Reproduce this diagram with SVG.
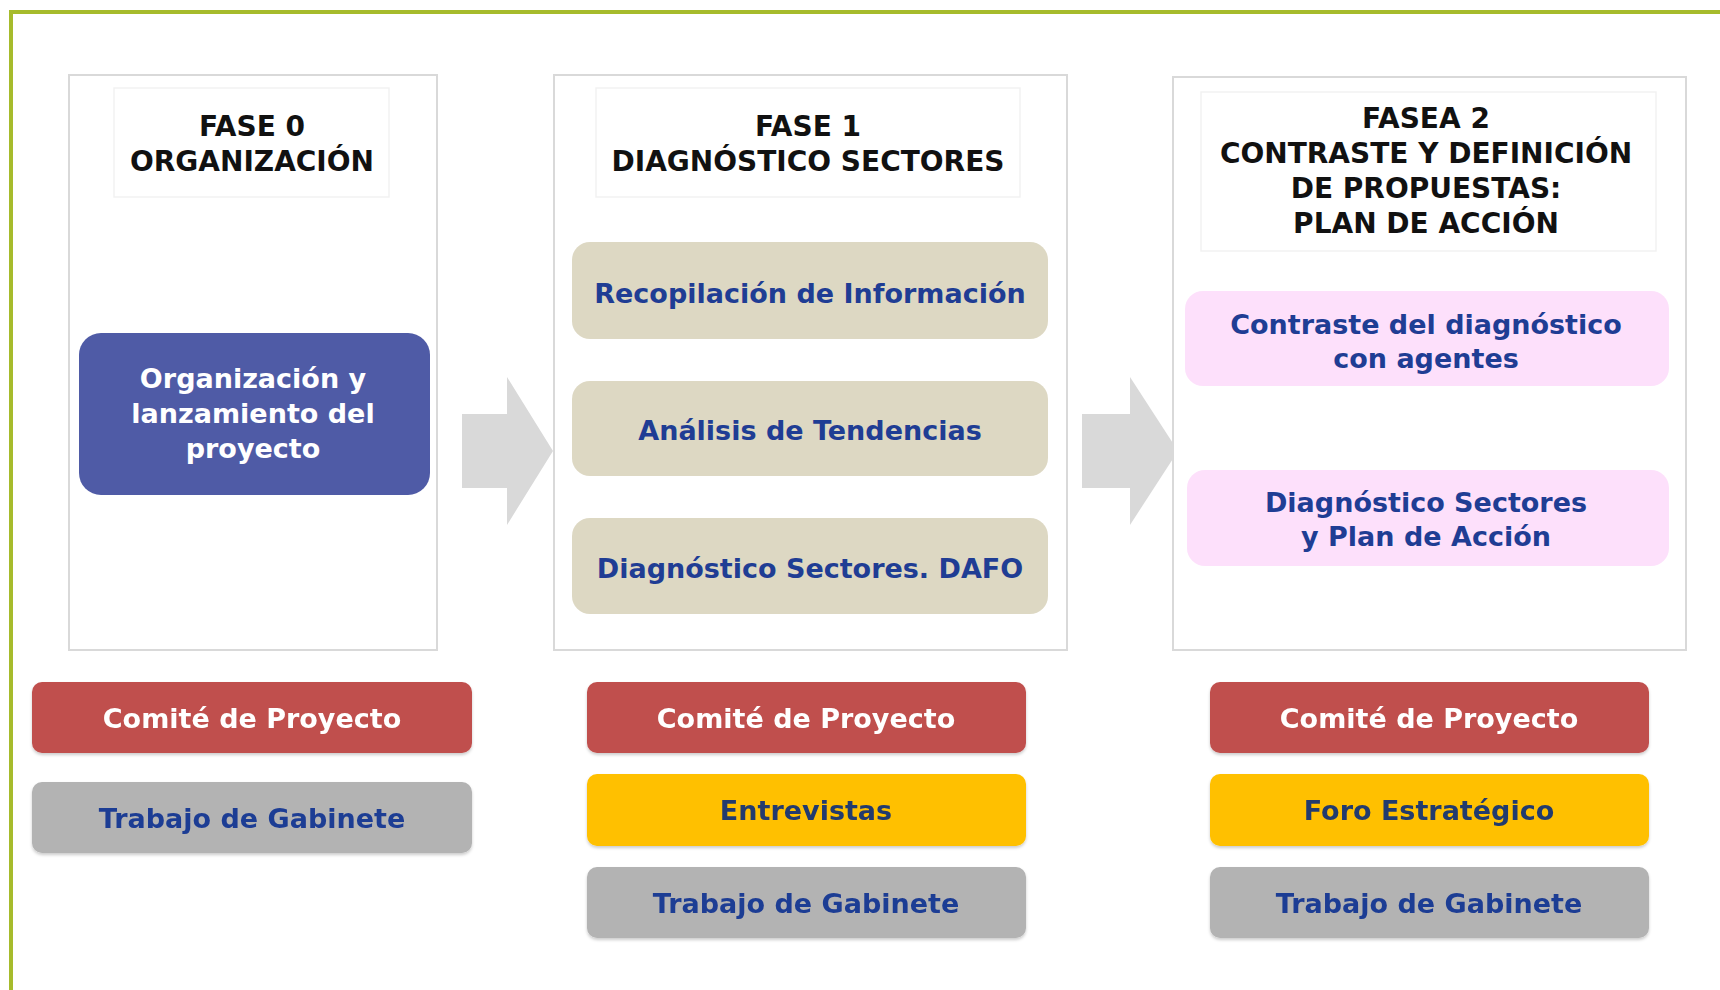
<svg xmlns="http://www.w3.org/2000/svg" width="1720" height="990" viewBox="0 0 1720 990">
<defs>
<style>
.t{font-family:"DejaVu Sans",Verdana,sans-serif;font-weight:bold;text-anchor:middle}
.ttl{font-size:28px;fill:#111}
.panel{fill:#fff;stroke:#d9d9d9;stroke-width:2}
.tbox{fill:#fff;stroke:#f2f2f2;stroke-width:1.5}
.tan{fill:#ddd8c3}
.pink{fill:#fde0fb}
.blue{fill:#4f5ba6}
.red{fill:#c0504d}
.yel{fill:#ffc000}
.gry{fill:#b3b3b3}
.bt{font-size:27px;fill:#1f3d94}
.wt{font-size:27px;fill:#fff}
.nt{font-size:27px;fill:#233a6e}
.arrow{fill:#d9d9d9}
</style>
<filter id="sh" x="-5%" y="-10%" width="110%" height="125%">
<feDropShadow dx="0" dy="2" stdDeviation="1.5" flood-color="#000" flood-opacity="0.2"/>
</filter>
</defs>
<rect width="1720" height="990" fill="#fff"/>
<path d="M11,995 V12 H1725" fill="none" stroke="#a6bb2c" stroke-width="4"/>

<g id="connectors">
<polygon class="arrow" points="462,414 507,414 507,377 553,451 507,525 507,488 462,488"/>
<polygon class="arrow" points="1082,414 1130,414 1130,377 1178,451 1130,525 1130,488 1082,488"/>
</g>

<g id="fase0">
<rect class="panel" x="69" y="75" width="368" height="575"/>
<rect class="tbox" x="114" y="88" width="275" height="109"/>
<text class="t ttl" x="252" y="136">FASE 0</text>
<text class="t ttl" x="252" y="171">ORGANIZACIÓN</text>
</g>
<g id="organizacion">
<rect class="blue" x="79" y="333" width="351" height="162" rx="22"/>
<text class="t wt" x="253" y="388">Organización y</text>
<text class="t wt" x="253" y="423">lanzamiento del</text>
<text class="t wt" x="253" y="458">proyecto</text>
</g>

<g id="fase1">
<rect class="panel" x="554" y="75" width="513" height="575"/>
<rect class="tbox" x="596" y="88" width="424" height="109"/>
<text class="t ttl" x="808" y="136">FASE 1</text>
<text class="t ttl" x="808" y="171">DIAGNÓSTICO SECTORES</text>
</g>
<g id="recopilacion">
<rect class="tan" x="572" y="242" width="476" height="97" rx="18"/>
<text class="t bt" x="810" y="303">Recopilación de Información</text>
</g>
<g id="analisis">
<rect class="tan" x="572" y="381" width="476" height="95" rx="18"/>
<text class="t bt" x="810" y="440">Análisis de Tendencias</text>
</g>
<g id="dafo">
<rect class="tan" x="572" y="518" width="476" height="96" rx="18"/>
<text class="t bt" x="810" y="578">Diagnóstico Sectores. DAFO</text>
</g>

<g id="fase2">
<rect class="panel" x="1173" y="77" width="513" height="573"/>
<rect class="tbox" x="1201" y="92" width="455" height="159"/>
<text class="t ttl" x="1426" y="128">FASEA 2</text>
<text class="t ttl" x="1426" y="163">CONTRASTE Y DEFINICIÓN</text>
<text class="t ttl" x="1426" y="198">DE PROPUESTAS:</text>
<text class="t ttl" x="1426" y="233">PLAN DE ACCIÓN</text>
</g>
<g id="contraste">
<rect class="pink" x="1185" y="291" width="484" height="95" rx="18"/>
<text class="t bt" x="1426" y="334">Contraste del diagnóstico</text>
<text class="t bt" x="1426" y="368">con agentes</text>
</g>
<g id="plan">
<rect class="pink" x="1187" y="470" width="482" height="96" rx="18"/>
<text class="t bt" x="1426" y="512">Diagnóstico Sectores</text>
<text class="t bt" x="1426" y="546">y Plan de Acción</text>
</g>

<g id="comite0" filter="url(#sh)">
<rect class="red" x="32" y="682" width="440" height="71" rx="10"/>
<text class="t wt" x="252" y="728">Comité de Proyecto</text>
</g>
<g id="gabinete0" filter="url(#sh)">
<rect class="gry" x="32" y="782" width="440" height="71" rx="10"/>
<text class="t bt" x="252" y="828">Trabajo de Gabinete</text>
</g>

<g id="comite1" filter="url(#sh)">
<rect class="red" x="587" y="682" width="439" height="71" rx="10"/>
<text class="t wt" x="806" y="728">Comité de Proyecto</text>
</g>
<g id="entrevistas" filter="url(#sh)">
<rect class="yel" x="587" y="774" width="439" height="72" rx="10"/>
<text class="t nt" x="806" y="820">Entrevistas</text>
</g>
<g id="gabinete1" filter="url(#sh)">
<rect class="gry" x="587" y="867" width="439" height="71" rx="10"/>
<text class="t bt" x="806" y="913">Trabajo de Gabinete</text>
</g>

<g id="comite2" filter="url(#sh)">
<rect class="red" x="1210" y="682" width="439" height="71" rx="10"/>
<text class="t wt" x="1429" y="728">Comité de Proyecto</text>
</g>
<g id="foro" filter="url(#sh)">
<rect class="yel" x="1210" y="774" width="439" height="72" rx="10"/>
<text class="t nt" x="1429" y="820">Foro Estratégico</text>
</g>
<g id="gabinete2" filter="url(#sh)">
<rect class="gry" x="1210" y="867" width="439" height="71" rx="10"/>
<text class="t bt" x="1429" y="913">Trabajo de Gabinete</text>
</g>
</svg>
